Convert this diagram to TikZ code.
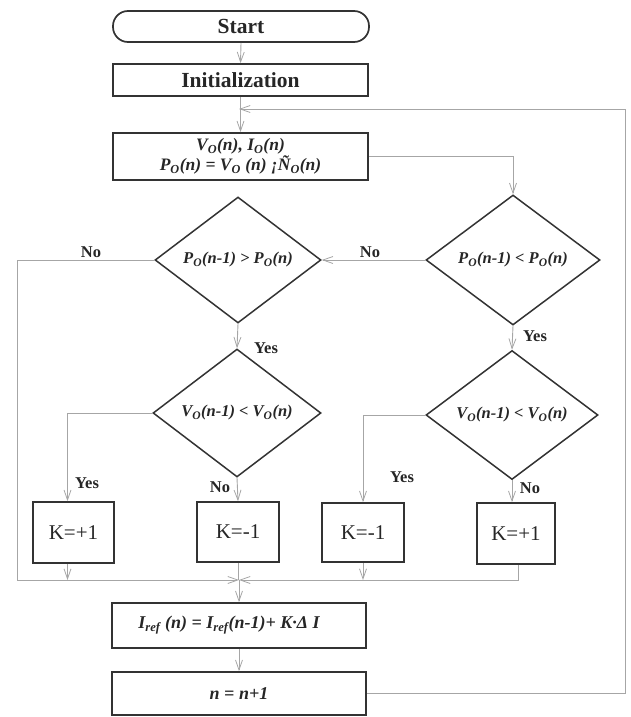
\documentclass[tikz,border=0pt]{standalone}
\usepackage{fontspec}
\setmainfont{Liberation Serif}
\usetikzlibrary{shapes.geometric,arrows.meta,calc}
\begin{document}
\begin{tikzpicture}[x=1pt,y=-1pt,
 box/.style={draw=black!80, line width=1.7pt, rectangle, inner sep=0pt, text=black!85},
 bigb/.style={box, font=\fontsize{21.5}{24}\selectfont\bfseries},
 ital/.style={box, font=\fontsize{18}{20}\selectfont\bfseries\itshape, align=center},
 kbox/.style={box, font=\fontsize{21}{24}\selectfont},
 dia/.style={draw=black!80, line width=1.5pt, diamond, inner sep=0pt, text=black!85, font=\fontsize{16.5}{19}\selectfont\bfseries\itshape},
 conn/.style={draw=black!35, line width=0.9pt},
 arr/.style={conn, -{Straight Barb[length=10pt,width=7pt,line width=0.8pt]}},
 lbl/.style={font=\fontsize{16.5}{18}\selectfont\bfseries, text=black!85, inner sep=0pt},
]
\useasboundingbox (0,0) rectangle (630,717);
\node[bigb, rounded corners=15pt, minimum width=256pt, minimum height=31pt] (start) at (241,26.5) {Start};
\node[bigb, minimum width=255pt, minimum height=32pt] (init) at (240.5,80) {Initialization};
\node[ital, font=\fontsize{17.5}{20}\selectfont\bfseries\itshape, minimum width=255pt, minimum height=47pt] (meas) at (240.5,156.5) {V\textsubscript{O}(n), I\textsubscript{O}(n)\\P\textsubscript{O}(n) = V\textsubscript{O} (n) ¡Ñ\textsubscript{O}(n)};
\node[dia, minimum width=166pt, minimum height=126pt] (d1) at (238,260) {P\textsubscript{O}(n-1) > P\textsubscript{O}(n)};
\node[dia, minimum width=174pt, minimum height=130pt] (d2) at (513,260) {P\textsubscript{O}(n-1) < P\textsubscript{O}(n)};
\node[dia, minimum width=168pt, minimum height=128pt] (d3) at (237,413) {V\textsubscript{O}(n-1) < V\textsubscript{O}(n)};
\node[dia, minimum width=172pt, minimum height=129pt] (d4) at (512,415) {V\textsubscript{O}(n-1) < V\textsubscript{O}(n)};
\node[kbox, minimum width=81pt, minimum height=61pt] (k1) at (73.5,532.5) {K=+1};
\node[kbox, minimum width=82pt, minimum height=60pt] (k2) at (238,532) {K=-1};
\node[kbox, minimum width=82pt, minimum height=59pt] (k3) at (363,532.5) {K=-1};
\node[kbox, minimum width=78pt, minimum height=61pt] (k4) at (516,533.5) {K=+1};
\node[ital, minimum width=254pt, minimum height=45pt] (iref) at (239,625.5) {I\textsubscript{ref} (n) = I\textsubscript{ref}(n-1)+ K·Δ I\hspace*{20pt}};
\node[ital, minimum width=254pt, minimum height=43pt] (nn) at (239,693.5) {n = n+1};
\coordinate (J) at (239,580);
\coordinate (L) at (17,580);
\coordinate (F) at (239,109);
\coordinate (FR) at (625,109);
% connectors
\draw[arr] (start.south) -- (init.north);
\draw[arr] (init.south) -- (meas.north);
\draw[arr] (meas.east) -| (d2.north);
\draw[arr] (d2.west) -- (d1.east);
\draw[arr] (d1.south) -- (d3.north);
\draw[arr] (d2.south) -- (d4.north);
\draw[arr] (d1.west) -| (L) -- (J);
\draw[arr] (d3.west) -| ([xshift=-6pt]k1.north);
\draw[arr] (d3.south) -- (k2.north);
\draw[arr] (d4.west) -| (k3.north);
\draw[arr] (d4.south) -- ([xshift=-4pt]k4.north);
\draw[arr] ([xshift=-6pt]k1.south) -- ([xshift=-6pt]k1.south |- J);
\draw[arr] (k3.south) -- (k3.south |- J);
\draw[conn] (k2.south) -- (k2.south |- J);
\draw[arr] ([xshift=2pt]k4.south) |- (J);
\draw[arr] (J) -- (iref.north);
\draw[arr] (iref.south) -- (nn.north);
\draw[arr] (nn.east) -| (FR) -- (F);
% labels
\node[lbl] (no1) at (91,252) {No};
\node[lbl] (no2) at (370,252) {No};
\node[lbl] (yes1) at (266,348) {Yes};
\node[lbl] (yes2) at (535,336) {Yes};
\node[lbl] (yes3) at (87,483) {Yes};
\node[lbl] (no3) at (220,487) {No};
\node[lbl] (yes4) at (402,477) {Yes};
\node[lbl] (no4) at (530,488) {No};
\end{tikzpicture}
\end{document}
